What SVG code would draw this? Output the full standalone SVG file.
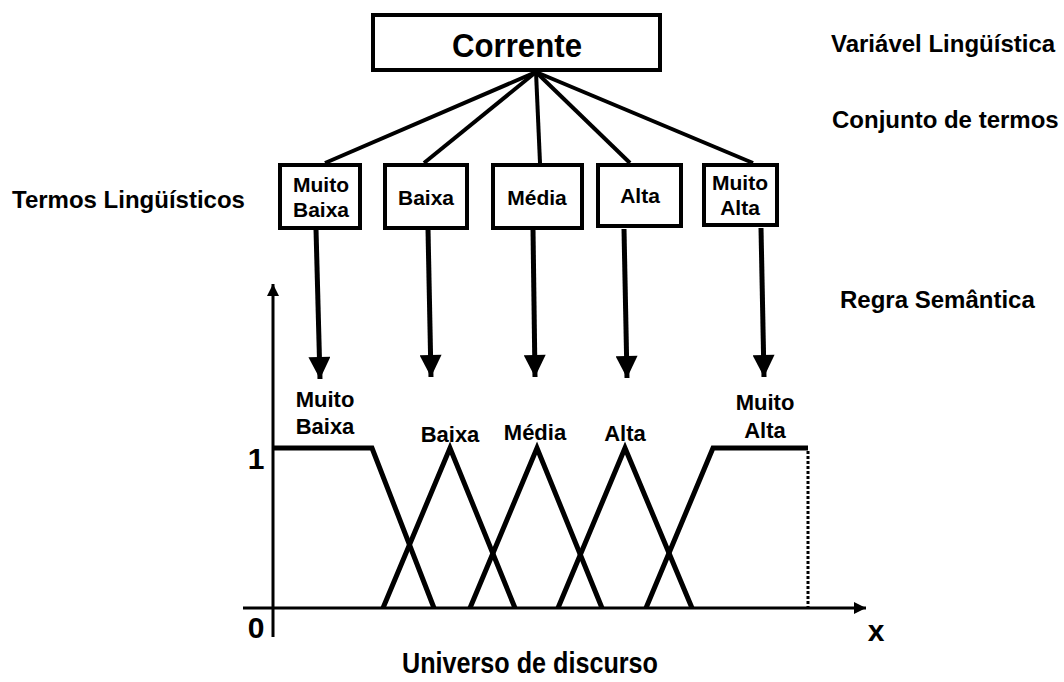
<svg xmlns="http://www.w3.org/2000/svg" width="1064" height="682" viewBox="0 0 1064 682">
<style>
text{font-family:"Liberation Sans",Arial,sans-serif;font-weight:bold;fill:#000}
.box{fill:#fff;stroke:#000;stroke-width:4}
.lbl{font-size:21px;text-anchor:middle}
.clbl{font-size:22px;text-anchor:middle}
.side{font-size:24px}
.con{stroke:#000;stroke-width:4;fill:none}
.arr{stroke:#000;stroke-width:5;fill:none}
.mf{stroke:#000;stroke-width:5;fill:none;stroke-linejoin:miter}
.ax{stroke:#000;stroke-width:3;fill:none}
.num{font-size:30px;text-anchor:middle}
</style>
<defs>
<marker id="ah" viewBox="0 0 10 10" refX="10" refY="5" markerWidth="4.6" markerHeight="4.4" orient="auto" markerUnits="strokeWidth">
<path d="M0,0 L10,5 L0,10 z" fill="#000"/>
</marker>
<marker id="axh" viewBox="0 0 10 10" refX="10" refY="5" markerWidth="5" markerHeight="4" orient="auto" markerUnits="strokeWidth">
<path d="M0,0 L10,5 L0,10 z" fill="#000"/>
</marker>
</defs>

<g id="connectors">
<line class="con" x1="536" y1="72" x2="325" y2="163"/>
<line class="con" x1="536" y1="72" x2="424" y2="163"/>
<line class="con" x1="536" y1="72" x2="540" y2="163"/>
<line class="con" x1="536" y1="72" x2="630" y2="163"/>
<line class="con" x1="536" y1="72" x2="753" y2="163"/>
<line class="arr" x1="316" y1="229" x2="320" y2="379" marker-end="url(#ah)"/>
<line class="arr" x1="428" y1="229" x2="431" y2="377" marker-end="url(#ah)"/>
<line class="arr" x1="533" y1="229" x2="535" y2="377" marker-end="url(#ah)"/>
<line class="arr" x1="624" y1="229" x2="627" y2="378" marker-end="url(#ah)"/>
<line class="arr" x1="761" y1="228" x2="764" y2="377" marker-end="url(#ah)"/>
</g>

<g id="corrente">
<rect class="box" x="373" y="15" width="287" height="55"/>
<text x="452" y="57" font-size="33" textLength="130" lengthAdjust="spacingAndGlyphs">Corrente</text>
</g>

<g id="t-muito-baixa">
<rect class="box" x="280" y="165" width="80" height="63"/>
<text class="lbl" x="321" y="192">Muito</text>
<text class="lbl" x="321" y="217">Baixa</text>
</g>
<g id="t-baixa">
<rect class="box" x="385" y="165" width="82" height="63"/>
<text class="lbl" x="426" y="205">Baixa</text>
</g>
<g id="t-media">
<rect class="box" x="493" y="165" width="89" height="63"/>
<text class="lbl" x="537" y="205">Média</text>
</g>
<g id="t-alta">
<rect class="box" x="598" y="165" width="83" height="61"/>
<text class="lbl" x="640" y="203">Alta</text>
</g>
<g id="t-muito-alta">
<rect class="box" x="704" y="165" width="73" height="60"/>
<text class="lbl" x="740" y="190">Muito</text>
<text class="lbl" x="740" y="215">Alta</text>
</g>

<g id="side-labels">
<text class="side" x="831" y="52">Variável Lingüística</text>
<text class="side" x="832" y="128">Conjunto de termos</text>
<text class="side" x="840" y="308">Regra Semântica</text>
<text class="side" x="12" y="208">Termos Lingüísticos</text>
</g>

<g id="chart">
<line class="ax" x1="273" y1="637" x2="273" y2="284" marker-end="url(#axh)"/>
<line class="ax" x1="243" y1="608" x2="866" y2="608" marker-end="url(#axh)"/>
<polyline class="mf" points="273,448 372,448 434,608"/>
<polyline class="mf" points="383,608 450,448 515,608"/>
<polyline class="mf" points="470,608 537,448 602,608"/>
<polyline class="mf" points="558,608 625,448 692,608"/>
<polyline class="mf" points="646,608 713,448 808,448"/>
<line x1="808" y1="451" x2="808" y2="607" stroke="#000" stroke-width="3" stroke-dasharray="3,2"/>
<text class="num" x="256" y="469">1</text>
<text class="num" x="256" y="638">0</text>
<text class="num" x="876" y="641">x</text>
<text x="402" y="673" font-size="30" textLength="256" lengthAdjust="spacingAndGlyphs">Universo de discurso</text>
<text class="clbl" x="325" y="407">Muito</text>
<text class="clbl" x="325" y="434">Baixa</text>
<text class="clbl" x="450" y="442">Baixa</text>
<text class="clbl" x="535" y="440">Média</text>
<text class="clbl" x="625" y="441">Alta</text>
<text class="clbl" x="765" y="410">Muito</text>
<text class="clbl" x="765" y="438">Alta</text>
</g>
</svg>
